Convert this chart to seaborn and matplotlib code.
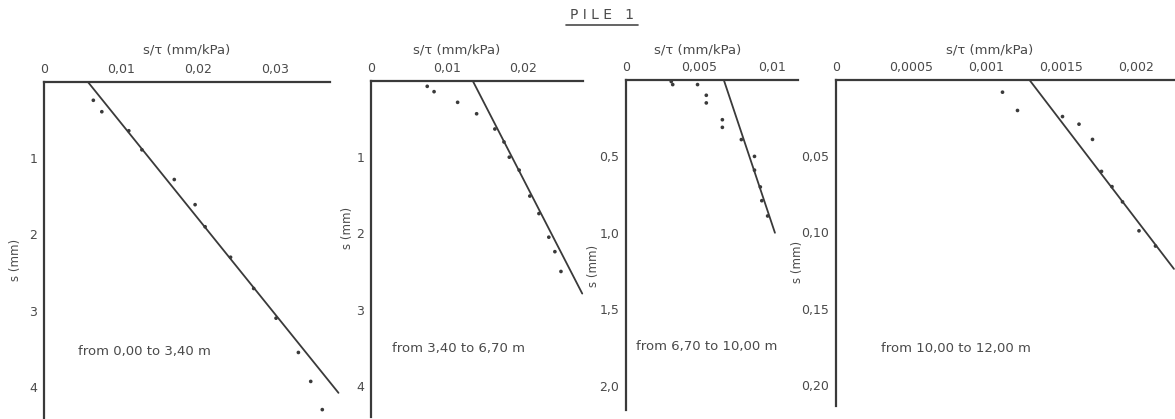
import matplotlib
matplotlib.use("Agg")
import matplotlib.pyplot as plt
import seaborn as sns
import pandas as pd
from matplotlib.lines import Line2D

sns.set_theme(style="white")
plt.rcParams['font.family'] = ['DejaVu Sans']

# ---- data ----
# Panel 1: from 0,00 to 3,40 m
p1_x = [0.0064, 0.0075, 0.0110, 0.0127, 0.0169, 0.0196, 0.0209, 0.0242, 0.0272, 0.0301, 0.0330, 0.0346, 0.0361]
p1_s = [0.24, 0.39, 0.64, 0.89, 1.28, 1.61, 1.90, 2.30, 2.71, 3.10, 3.55, 3.93, 4.30]
p1_fit_x = [0.0057, 0.0382]
p1_fit_s = [0.0, 4.08]

# Panel 2: from 3,40 to 6,70 m
p2_x = [0.0074, 0.0083, 0.0114, 0.0139, 0.0163, 0.0175, 0.0182, 0.0195, 0.0209, 0.0221, 0.0234, 0.0242, 0.0250]
p2_s = [0.07, 0.14, 0.28, 0.43, 0.63, 0.80, 1.00, 1.17, 1.51, 1.74, 2.05, 2.24, 2.50]
p2_fit_x = [0.0134, 0.0278]
p2_fit_s = [0.0, 2.79]

# Panel 3: from 6,70 to 10,00 m
p3_x = [0.0031, 0.0032, 0.0049, 0.0055, 0.0055, 0.0066, 0.0066, 0.0079, 0.0088, 0.0088, 0.0092, 0.0093, 0.0097]
p3_s = [0.01, 0.03, 0.03, 0.10, 0.15, 0.26, 0.31, 0.39, 0.50, 0.59, 0.70, 0.79, 0.89]
p3_fit_x = [0.0067, 0.0102]
p3_fit_s = [0.0, 1.0]

# Panel 4: from 10,00 to 12,00 m
p4_x = [0.00111, 0.00121, 0.00151, 0.00162, 0.00171, 0.00177, 0.00184, 0.00191, 0.00202, 0.00213]
p4_s = [0.008, 0.020, 0.024, 0.029, 0.039, 0.060, 0.070, 0.080, 0.099, 0.109]
p4_fit_x = [0.00129, 0.002253]
p4_fit_s = [0.0, 0.124]

titles = ["from 0,00 to 3,40 m", "from 3,40 to 6,70 m",
          "from 6,70 to 10,00 m", "from 10,00 to 12,00 m"]
xticks = [[0, 0.01, 0.02, 0.03], [0, 0.01, 0.02], [0, 0.005, 0.01],
          [0, 0.0005, 0.001, 0.0015, 0.002]]
xticklabels = [["0", "0,01", "0,02", "0,03"], ["0", "0,01", "0,02"],
               ["0", "0,005", "0,01"], ["0", "0,0005", "0,001", "0,0015", "0,002"]]
yticks = [[1, 2, 3, 4], [1, 2, 3, 4], [0.5, 1.0, 1.5, 2.0], [0.05, 0.10, 0.15, 0.20]]
yticklabels = [["1", "2", "3", "4"], ["1", "2", "3", "4"],
               ["0,5", "1,0", "1,5", "2,0"], ["0,05", "0,10", "0,15", "0,20"]]
xlims = [0.0371, 0.0279, 0.01178, 0.00226]
ylims = [4.41, 4.41, 2.16, 0.214]

pts_x = [p1_x, p2_x, p3_x, p4_x]
pts_s = [p1_s, p2_s, p3_s, p4_s]
fit_x = [p1_fit_x, p2_fit_x, p3_fit_x, p4_fit_x]
fit_s = [p1_fit_s, p2_fit_s, p3_fit_s, p4_fit_s]

# ---- layout (pixels) ----
W, H = 1175, 419
boxes = [(44, 82, 330, 418), (371, 81, 583, 417), (626, 80, 798, 410), (836, 80, 1175, 406)]
xlabel_x = [187, 457, 698, 990]
ylabel_x = [16, 347, 594, 797]
ylabel_y = [260, 228, 266, 262]
ann_xy = [(78, 351), (392, 348), (636, 346), (881, 348)]

fig = plt.figure(figsize=(W / 100, H / 100), dpi=100)
fig.patch.set_facecolor("white")

txt_col = "#4a4a4a"
line_col = "#3a3a3a"

for i in range(4):
    l, t, r, b = boxes[i]
    ax = fig.add_axes([l / W, 1 - b / H, (r - l) / W, (b - t) / H])
    ax.set_facecolor("white")
    df_pts = pd.DataFrame({"x": pts_x[i], "s": pts_s[i]})
    df_fit = pd.DataFrame({"x": fit_x[i], "s": fit_s[i]})
    sns.lineplot(data=df_fit, x="x", y="s", ax=ax, color=line_col, lw=1.3,
                 sort=False, estimator=None, clip_on=False)
    sns.scatterplot(data=df_pts, x="x", y="s", ax=ax, color=line_col, s=7,
                    edgecolor="none", linewidth=0, clip_on=False)
    ax.set_xlim(0, xlims[i])
    ax.set_ylim(ylims[i], 0)
    ax.xaxis.tick_top()
    ax.set_xticks(xticks[i])
    ax.set_xticklabels(xticklabels[i])
    ax.set_yticks(yticks[i])
    ax.set_yticklabels(yticklabels[i])
    ax.tick_params(axis="both", labelsize=9, colors=txt_col, length=3, width=1,
                   pad=2, direction="out")
    ax.tick_params(axis="x", length=0, pad=4)
    for sp in ["right", "bottom"]:
        ax.spines[sp].set_visible(False)
    for sp in ["left", "top"]:
        ax.spines[sp].set_visible(True)
        ax.spines[sp].set_color(line_col)
        ax.spines[sp].set_linewidth(1.6)
    ax.set_xlabel("")
    ax.set_ylabel("")
    ax.grid(False)
    fig.text(xlabel_x[i] / W, 1 - 50 / H, "s/τ (mm/kPa)", ha="center", va="center",
             fontsize=9.5, color=txt_col)
    fig.text(ylabel_x[i] / W, 1 - ylabel_y[i] / H, "s (mm)", ha="center", va="center",
             rotation=90, fontsize=8.5, color=txt_col)
    ax_x, ax_y = ann_xy[i]
    fig.text(ax_x / W, 1 - ax_y / H, titles[i], ha="left", va="center",
             fontsize=9.5, color=txt_col)

fig.text(602 / W, 1 - 15 / H, "P I L E   1", ha="center", va="center",
         fontsize=10, color=txt_col)
fig.add_artist(Line2D([566 / W, 638 / W], [1 - 25 / H, 1 - 25 / H],
                      transform=fig.transFigure, color=txt_col, lw=1.2))

fig.savefig("out.png", dpi=100, facecolor="white")
